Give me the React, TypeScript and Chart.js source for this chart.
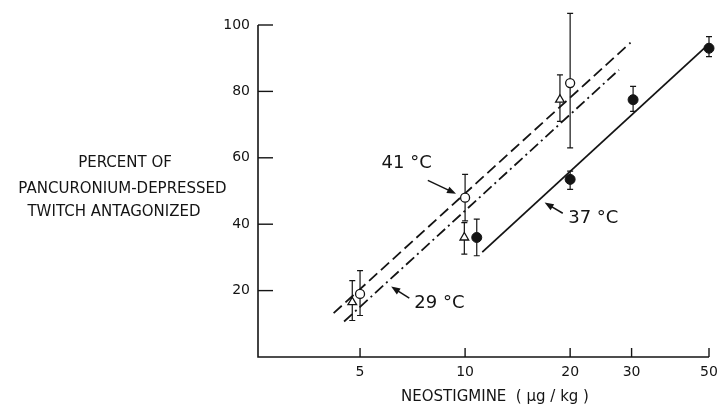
import React, { useEffect, useRef } from 'react';
import { Chart, registerables } from 'chart.js';

Chart.register(...registerables);

// ---- Axis ticks ----
const xTicks = [5, 10, 20, 30, 50];
const yTicks = [20, 40, 60, 80, 100];

// ---- 41 °C (open circles) ----
const dose41 = [5, 10, 20];
const mean41 = [19, 48, 82.5];
const low41 = [12.5, 41, 63];
const high41 = [26, 55, 103.5];

// ---- 29 °C (open triangles) ----
const dose29 = [4.75, 9.95, 18.7];
const mean29 = [16.5, 36, 77.5];
const low29 = [11, 31, 71];
const high29 = [23, 40.5, 85];

// ---- 37 °C (filled circles) ----
const dose37 = [10.8, 20, 30.3, 50];
const mean37 = [36, 53.5, 77.5, 93];
const low37 = [30.5, 50.5, 74, 90.5];
const high37 = [41.5, 56, 81.5, 96.5];

// ---- Fitted regression lines (end points) ----
const fit41X = [4.2, 29.8];
const fit41Y = [13.2, 94.7];
const fit29X = [4.5, 27.6];
const fit29Y = [10.7, 86.5];
const fit37X = [11.2, 50];
const fit37Y = [31.6, 94.3];

// ---- Annotations (data coordinates) ----
const annoText = ['41 °C', '29 °C', '37 °C'];
const annoAtX = [6.8, 8.44, 23.3];
const annoAtY = [58.4, 16.2, 41.8];
const arrowFromX = [7.82, 6.92, 19.05];
const arrowFromY = [53.2, 17.7, 43.3];
const arrowToX = [9.42, 6.14, 16.9];
const arrowToY = [49.2, 21.2, 46.5];

const yTitleLines = ['PERCENT OF', 'PANCURONIUM-DEPRESSED', 'TWITCH ANTAGONIZED'];
const xTitle = 'NEOSTIGMINE  ( \u03BCg / kg )';

const INK = '#141414';
const FONT = '"DejaVu Sans", sans-serif';

const pts = (xs: number[], ys: number[]) => xs.map((v, i) => ({ x: v, y: ys[i] }));

const decor = {
  id: 'decor',
  beforeDatasetsDraw(chart: any) {
    const { ctx, scales } = chart;
    const x = scales.x;
    const y = scales.y;
    ctx.save();
    ctx.strokeStyle = INK;
    ctx.lineWidth = 1.2;
    const groups: [number[], number[], number[]][] = [
      [dose41, low41, high41],
      [dose29, low29, high29],
      [dose37, low37, high37],
    ];
    groups.forEach(([xs, lo, hi]) => {
      xs.forEach((d, i) => {
        const px = x.getPixelForValue(d);
        const p1 = y.getPixelForValue(lo[i]);
        const p2 = y.getPixelForValue(hi[i]);
        ctx.beginPath();
        ctx.moveTo(px, p1);
        ctx.lineTo(px, p2);
        ctx.moveTo(px - 3, p1);
        ctx.lineTo(px + 3, p1);
        ctx.moveTo(px - 3, p2);
        ctx.lineTo(px + 3, p2);
        ctx.stroke();
      });
    });
    ctx.restore();
  },
  afterDraw(chart: any) {
    const { ctx, scales, chartArea } = chart;
    const x = scales.x;
    const y = scales.y;
    const left = chartArea.left;
    const bottom = chartArea.bottom;
    ctx.save();
    ctx.strokeStyle = INK;
    ctx.fillStyle = INK;
    ctx.lineWidth = 1.6;
    // axes
    ctx.beginPath();
    ctx.moveTo(left, y.getPixelForValue(100));
    ctx.lineTo(left, bottom);
    ctx.lineTo(x.getPixelForValue(50), bottom);
    ctx.stroke();
    // inward ticks
    ctx.lineWidth = 1.4;
    yTicks.forEach((v) => {
      const py = y.getPixelForValue(v);
      ctx.beginPath();
      ctx.moveTo(left, py);
      ctx.lineTo(left + 15, py);
      ctx.stroke();
    });
    xTicks.forEach((v) => {
      const px = x.getPixelForValue(v);
      ctx.beginPath();
      ctx.moveTo(px, bottom);
      ctx.lineTo(px, bottom - 9);
      ctx.stroke();
    });
    // titles
    ctx.textBaseline = 'middle';
    ctx.textAlign = 'center';
    ctx.font = `15px ${FONT}`;
    const yCenters = [125, 122.5, 114];
    const yRows = [163.5, 189, 212.5];
    yTitleLines.forEach((t, i) => ctx.fillText(t, yCenters[i], yRows[i]));
    ctx.fillText(xTitle, left + 237, bottom + 40);
    // annotations
    ctx.font = `18px ${FONT}`;
    annoText.forEach((t, i) => {
      ctx.fillText(t, x.getPixelForValue(annoAtX[i]), y.getPixelForValue(annoAtY[i]));
      const fx = x.getPixelForValue(arrowFromX[i]);
      const fy = y.getPixelForValue(arrowFromY[i]);
      const tx = x.getPixelForValue(arrowToX[i]);
      const ty = y.getPixelForValue(arrowToY[i]);
      const ang = Math.atan2(ty - fy, tx - fx);
      ctx.lineWidth = 1.5;
      ctx.beginPath();
      ctx.moveTo(fx, fy);
      ctx.lineTo(tx - 6 * Math.cos(ang), ty - 6 * Math.sin(ang));
      ctx.stroke();
      ctx.beginPath();
      ctx.moveTo(tx, ty);
      ctx.lineTo(tx - 9 * Math.cos(ang) + 3.5 * Math.sin(ang), ty - 9 * Math.sin(ang) - 3.5 * Math.cos(ang));
      ctx.lineTo(tx - 9 * Math.cos(ang) - 3.5 * Math.sin(ang), ty - 9 * Math.sin(ang) + 3.5 * Math.cos(ang));
      ctx.closePath();
      ctx.fill();
    });
    ctx.restore();
  },
};

export default function App() {
  const ref = useRef<HTMLCanvasElement | null>(null);
  useEffect(() => {
    if (!ref.current) return;
    const chart = new Chart(ref.current, {
      type: 'scatter',
      data: {
        datasets: [
          {
            label: '41 °C',
            data: pts(dose41, mean41),
            pointStyle: 'circle',
            pointRadius: 4.5,
            backgroundColor: '#fff',
            borderColor: INK,
            borderWidth: 1.3,
            showLine: false,
            clip: false,
            order: 0,
          },
          {
            label: '29 °C',
            data: pts(dose29, mean29),
            pointStyle: 'triangle',
            pointRadius: 5,
            backgroundColor: '#fff',
            borderColor: INK,
            borderWidth: 1.3,
            showLine: false,
            clip: false,
            order: 0,
          },
          {
            label: '37 °C',
            data: pts(dose37, mean37),
            pointStyle: 'circle',
            pointRadius: 5,
            backgroundColor: INK,
            borderColor: INK,
            borderWidth: 1,
            showLine: false,
            clip: false,
            order: 0,
          },
          {
            label: 'fit 41',
            data: pts(fit41X, fit41Y),
            showLine: true,
            borderColor: INK,
            borderWidth: 1.8,
            borderDash: [11, 5],
            pointRadius: 0,
            clip: false,
            order: 1,
          },
          {
            label: 'fit 29',
            data: pts(fit29X, fit29Y),
            showLine: true,
            borderColor: INK,
            borderWidth: 1.8,
            borderDash: [11, 4, 2, 4],
            pointRadius: 0,
            clip: false,
            order: 1,
          },
          {
            label: 'fit 37',
            data: pts(fit37X, fit37Y),
            showLine: true,
            borderColor: INK,
            borderWidth: 1.8,
            pointRadius: 0,
            clip: false,
            order: 1,
          },
        ],
      },
      options: {
        responsive: false,
        animation: false,
        layout: { padding: { top: 25, right: 18, left: 0, bottom: 0 } },
        plugins: { legend: { display: false }, tooltip: { enabled: false } },
        scales: {
          x: {
            type: 'logarithmic',
            min: 2.55,
            max: 50,
            grid: { display: false, drawTicks: false },
            border: { display: false },
            afterBuildTicks: (s: any) => {
              s.ticks = xTicks.map((v) => ({ value: v }));
            },
            afterFit: (s: any) => {
              s.height = 56;
            },
            ticks: {
              autoSkip: false,
              maxRotation: 0,
              padding: 7,
              color: INK,
              font: { family: FONT, size: 14 },
              callback: (v: any) => String(v),
            },
          },
          y: {
            min: 0,
            max: 100,
            grid: { display: false, drawTicks: false },
            border: { display: false },
            afterFit: (s: any) => {
              s.width = 258;
            },
            ticks: {
              stepSize: 20,
              padding: 8,
              color: INK,
              font: { family: FONT, size: 14 },
              callback: (v: any) => (yTicks.includes(Number(v)) ? String(v) : ''),
            },
          },
        },
      },
      plugins: [decor],
    });
    return () => chart.destroy();
  }, []);
  return (
    <div style={{ position: 'absolute', left: 0, top: 0, width: 727, height: 413, background: '#fff' }}>
      <canvas ref={ref} width={727} height={413} />
    </div>
  );
}
